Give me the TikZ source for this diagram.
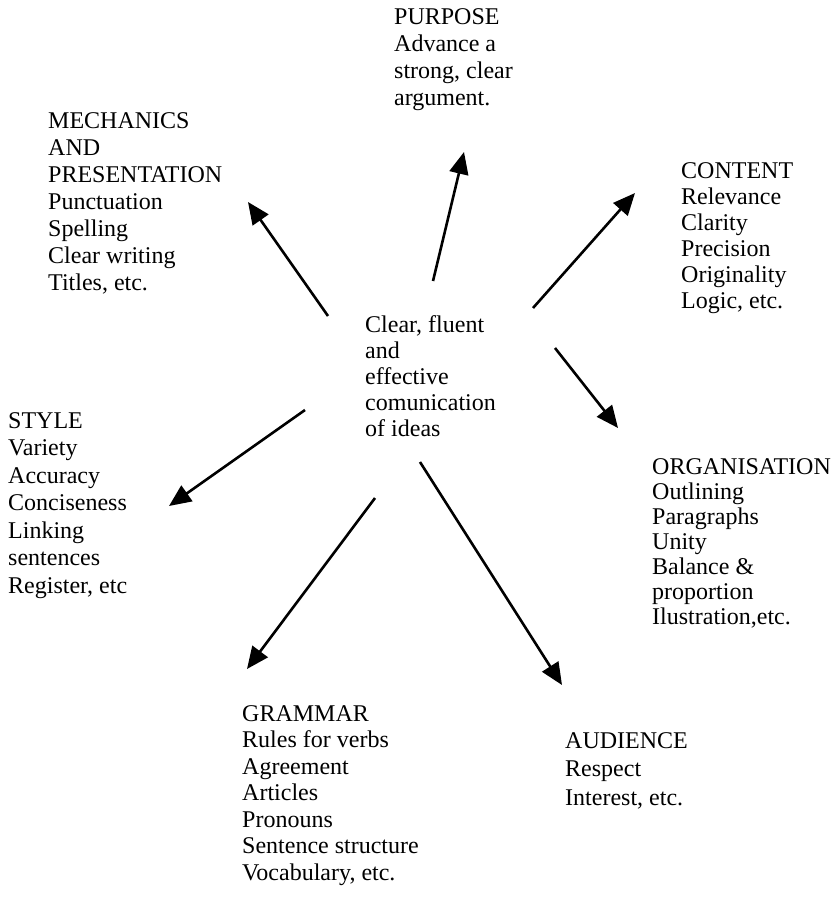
\documentclass[tikz,border=0pt]{standalone}
\usepackage{fontspec}
\setmainfont{Liberation Serif}
\usetikzlibrary{arrows.meta}
\tikzset{
  blk/.style={anchor=north west, align=left, inner sep=0pt,
    font=\fontsize{24}{#1}\selectfont},
  blk/.default=26,
  arr/.style={line width=2.6pt, -{Triangle[length=22pt,width=19pt]}},
}

\begin{document}
\begin{tikzpicture}[x=1pt, y=-1pt]
  \useasboundingbox (0,0) rectangle (834,897);

  % centre of the diagram
  \node[blk=26] (centre) at (365,315) {Clear, fluent\\and\\effective\\comunication\\of ideas};

  % the seven aspects round it
  \node[blk=27.3] (purpose) at (394,8) {PURPOSE\\Advance a\\strong, clear\\argument.};
  \node[blk=27] (mech) at (48,112) {MECHANICS\\AND\\PRESENTATION\\Punctuation\\Spelling\\Clear writing\\Titles, etc.};
  \node[blk=26] (content) at (681,162) {CONTENT\\Relevance\\Clarity\\Precision\\Originality\\Logic, etc.};
  \node[blk=25] (org) at (652,458) {ORGANISATION\\Outlining\\Paragraphs\\Unity\\Balance \&\\proportion\\Ilustration,etc.};
  \node[blk=27.5] (sty) at (8,412) {STYLE\\Variety\\Accuracy\\Conciseness\\Linking\\sentences\\Register, etc};
  \node[blk=26.5] (grammar) at (242,705) {GRAMMAR\\Rules for verbs\\Agreement\\Articles\\Pronouns\\Sentence structure\\Vocabulary, etc.};
  \node[blk=28.5] (audience) at (565,732) {AUDIENCE\\Respect\\Interest, etc.};

  % arrow ends
  \coordinate (purposeTail) at (433,281);
  \coordinate (purposeTip) at (464,152);
  \coordinate (mechTail) at (328,316);
  \coordinate (mechTip) at (248,202);
  \coordinate (contentTail) at (533,308);
  \coordinate (contentTip) at (635,193);
  \coordinate (orgTail) at (555,348);
  \coordinate (orgTip) at (618,428);
  \coordinate (styTail) at (305,410);
  \coordinate (styTip) at (169,506);
  \coordinate (grammarTail) at (375,498);
  \coordinate (grammarTip) at (247,669);
  \coordinate (audienceTail) at (420,462);
  \coordinate (audienceTip) at (562,685);

  \foreach \n in {purpose, mech, content, org, sty, grammar, audience}
    \draw[arr] (\n Tail) -- (\n Tip);
\end{tikzpicture}
\end{document}
